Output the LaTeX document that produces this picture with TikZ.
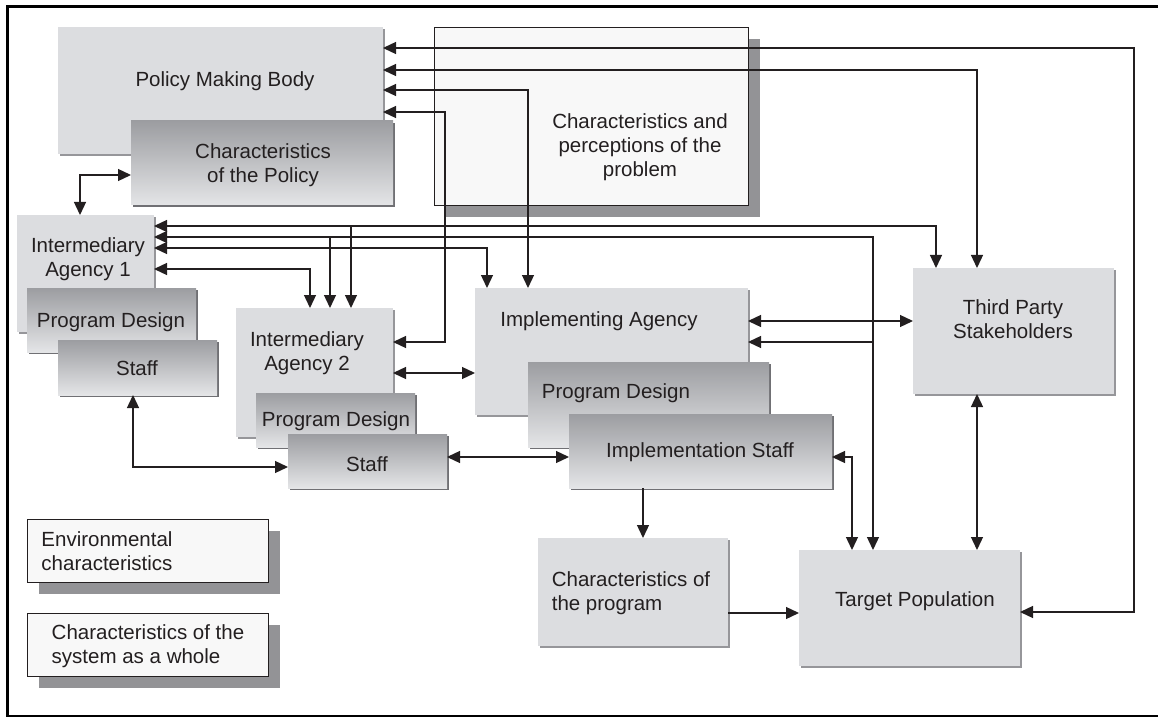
\documentclass[tikz,border=0pt]{standalone}
\usepackage{fontspec}
\setmainfont{Liberation Sans}
\usetikzlibrary{arrows.meta,shadows}
\definecolor{boxgray}{RGB}{220,221,224}
\definecolor{edgegray}{RGB}{150,150,154}
\definecolor{darkedge}{RGB}{112,112,116}
\definecolor{gradtop}{RGB}{156,157,161}
\definecolor{gradbot}{RGB}{228,229,231}
\definecolor{paper}{RGB}{248,248,248}
\definecolor{castgray}{RGB}{147,147,150}
\definecolor{ink}{RGB}{35,31,32}

\begin{document}
\begin{tikzpicture}[x=0.5pt,y=-0.5pt,
    plainbox/.style={anchor=north west, inner sep=0pt, outer sep=0pt, fill=boxgray,
        drop shadow={shadow xshift=1pt, shadow yshift=-1pt, fill=edgegray, opacity=1}},
    shadebox/.style={anchor=north west, inner sep=0pt, outer sep=0pt, top color=gradtop, bottom color=gradbot,
        drop shadow={shadow xshift=1pt, shadow yshift=-1pt, fill=darkedge, opacity=1}},
    notebox/.style={anchor=north west, inner sep=0pt, outer sep=0pt, fill=paper, draw=ink, line width=0.5pt,
        drop shadow={shadow xshift=5.75pt, shadow yshift=-5.75pt, fill=castgray, opacity=1}},
    lbl/.style={font=\fontsize{10.25}{12}\selectfont, text=ink, align=center, inner sep=0pt},
    conn/.style={draw=ink, line width=0.65pt},
    >={Triangle[length=6.5pt,width=6pt]}]
    \useasboundingbox (0,0) rectangle (1158,717);
    % frame
    \draw[line width=1.5pt] (7,717) -- (7,7) -- (1158,7);
    \draw[line width=0.8pt] (7,716) -- (1158,716);

    % problem box, crossed by the links
    \node[notebox, minimum width=157pt, minimum height=89pt] (cpp) at (434,28) {};
    \node[lbl] (cpp-t) at (640,147) {Characteristics and\\perceptions of the\\problem};

    % policy level
    \node[plainbox, minimum width=162.5pt, minimum height=63.5pt] (pmb) at (58,27) {};
    \node[lbl] (pmb-t) at (225,81) {Policy Making Body};
    \node[shadebox, minimum width=131pt, minimum height=42pt] (cop) at (131,121) {};
    \node[lbl] (cop-t) at (263,165) {Characteristics\\of the Policy};

    % intermediary agency 1
    \node[plainbox, minimum width=68.5pt, minimum height=58.5pt] (ia1) at (17,215) {};
    \node[lbl] (ia1-t) at (88,259) {Intermediary\\Agency 1};
    \node[shadebox, minimum width=84.5pt, minimum height=32pt] (pd1) at (27,288) {};
    \node[lbl] (pd1-t) at (111,322) {Program Design};
    \node[shadebox, minimum width=79.5pt, minimum height=27.5pt] (st1) at (58,340) {};
    \node[lbl] (st1-t) at (137,368) {Staff};

    % intermediary agency 2
    \node[plainbox, minimum width=78.5pt, minimum height=64.5pt] (ia2) at (236,308) {};
    \node[lbl] (ia2-t) at (307,353) {Intermediary\\Agency 2};
    \node[shadebox, minimum width=79.5pt, minimum height=27pt] (pd2) at (256,393) {};
    \node[lbl] (pd2-t) at (336,421) {Program Design};
    \node[shadebox, minimum width=79.5pt, minimum height=27pt] (st2) at (288,434) {};
    \node[lbl] (st2-t) at (367,464) {Staff};

    % implementing agency
    \node[plainbox, minimum width=136.5pt, minimum height=63.5pt] (ima) at (475,288) {};
    \node[lbl] (ima-t) at (599,321) {Implementing Agency};
    \node[shadebox, minimum width=120.5pt, minimum height=42.5pt] (pd3) at (528,362) {};
    \node[lbl] (pd3-t) at (616,393) {Program Design};
    \node[shadebox, minimum width=131.5pt, minimum height=37pt] (ist) at (569,414) {};
    \node[lbl] (ist-t) at (700,452) {Implementation Staff};

    % program, population, stakeholders
    \node[plainbox, minimum width=95pt, minimum height=54pt] (cprog) at (538,538) {};
    \node[lbl, align=left] (cprog-t) at (631,593) {Characteristics of\\the program};
    \node[plainbox, minimum width=110.5pt, minimum height=58pt] (tp) at (799,550) {};
    \node[lbl] (tp-t) at (915,601) {Target Population};
    \node[plainbox, minimum width=100.5pt, minimum height=63pt] (tps) at (913,268) {};
    \node[lbl] (tps-t) at (1013,319) {Third Party\\Stakeholders};

    % legend boxes
    \node[notebox, minimum width=120.5pt, minimum height=31.5pt] (env) at (27,519) {};
    \node[lbl, align=left] (env-t) at (107,551) {Environmental\\characteristics};
    \node[notebox, minimum width=120.5pt, minimum height=31.5pt] (sys) at (27,613) {};
    \node[lbl, align=left] (sys-t) at (148,646) {Characteristics of the\\system as a whole};

    % junctions of the shared lines
    \coordinate (j1) at (351,226);
    \coordinate (j2) at (330,237);
    \coordinate (j3) at (873,342);

    % links of the policy making body
    \draw[conn,<->] (pmb.east |- 0,48) -| (1134,612) -- (tp.east |- 0,612);
    \draw[conn,<->] (pmb.east |- 0,70) -| (tps.north -| 977,0);
    \draw[conn,<->] (pmb.east |- 0,90) -| (ima.north -| 528,0);
    \draw[conn,<->] (pmb.east |- 0,112) -| (445,342) -- (ia2.east |- 0,342);
    \draw[conn,<->] (cop.west |- 0,175) -| (ia1.north -| 80,0);

    % links of intermediary agency 1
    \draw[conn,<->] (ia1.east |- 0,226) -| (tps.north -| 936,0);
    \draw[conn,->] (j1) -- (ia2.north -| j1);
    \draw[conn,<->] (ia1.east |- 0,237) -| (tp.north -| 873,0);
    \draw[conn,->] (j2) -- (ia2.north -| j2);
    \draw[conn,->] (j3) -- (ima.east |- j3);
    \draw[conn,<->] (ia1.east |- 0,248) -| (ima.north -| 487,0);
    \draw[conn,<->] (ia1.east |- 0,269) -| (ia2.north -| 310,0);

    % lower links
    \draw[conn,<->] (ia2.east |- 0,373) -- (ima.west |- 0,373);
    \draw[conn,<->] (ima.east |- 0,321) -- (tps.west |- 0,321);
    \draw[conn,<->] (st1.south -| 133,0) |- (st2.west |- 0,467);
    \draw[conn,<->] (st2.east |- 0,457) -- (ist.west |- 0,457);
    \draw[conn,<->] (ist.east |- 0,457) -| (tp.north -| 852,0);
    \draw[conn,->] (ist.south -| 643,0) -- (cprog.north -| 643,0);
    \draw[conn,->] (cprog.east |- 0,613) -- (tp.west |- 0,613);
    \draw[conn,<->] (tps.south -| 977,0) -- (tp.north -| 977,0);
\end{tikzpicture}
\end{document}
